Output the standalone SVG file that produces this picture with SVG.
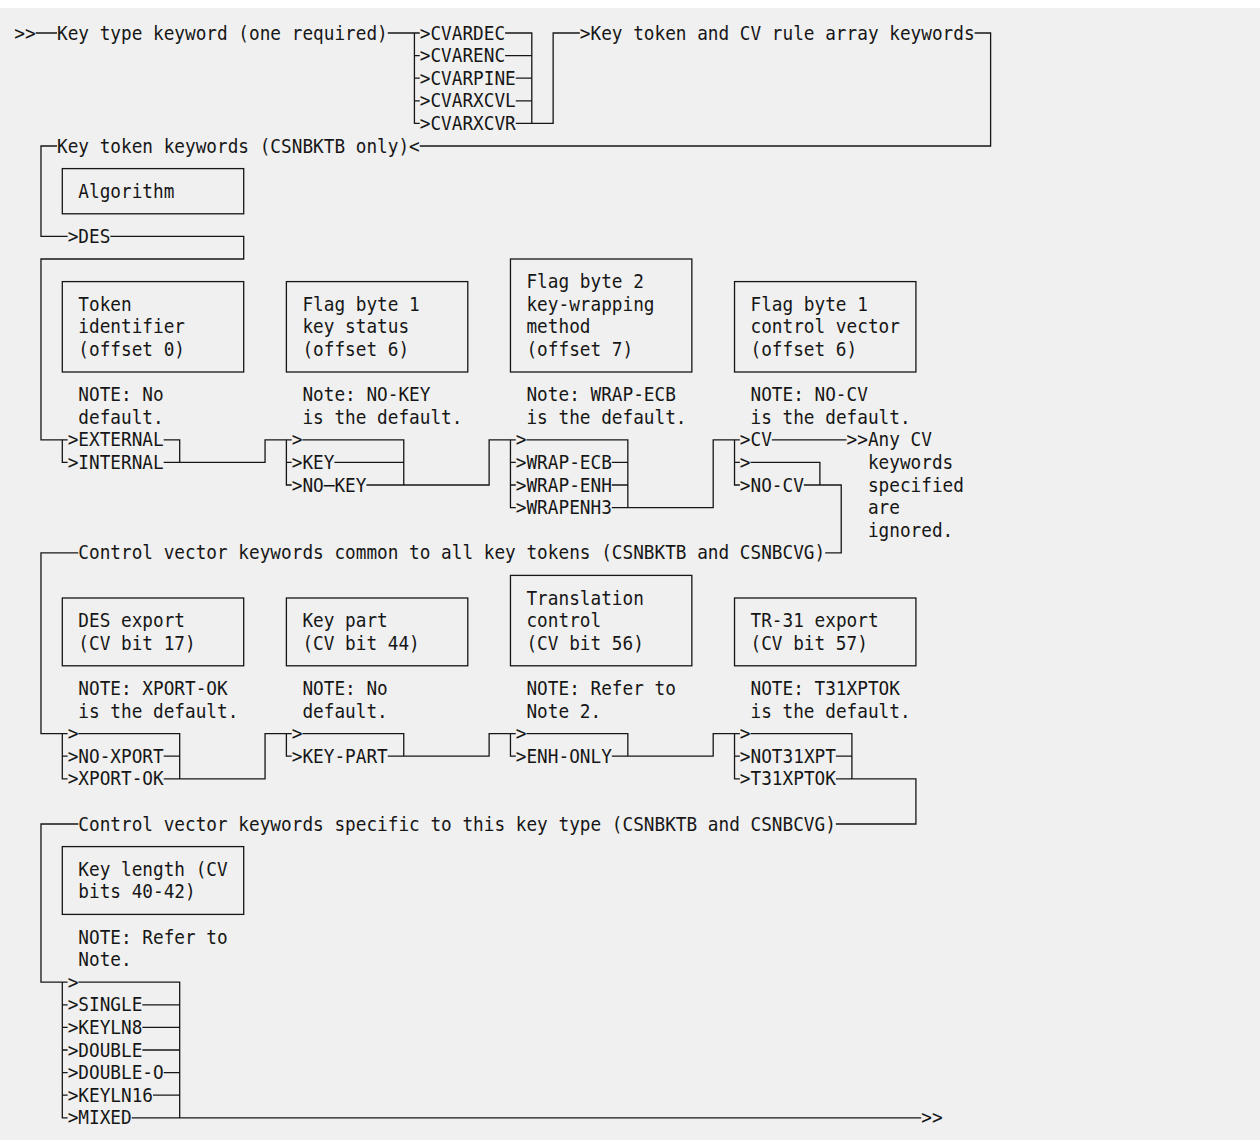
<svg xmlns="http://www.w3.org/2000/svg" width="1260" height="1140" viewBox="0 0 1260 1140">
<style>
.t{font-family:"DejaVu Sans Mono","Liberation Mono",monospace;font-size:18.8px;fill:#161616}
.ln{fill:none;stroke:#161616;stroke-width:1.3}
.box{fill:none;stroke:#161616;stroke-width:1.3}
</style>
<rect x="0" y="0" width="1260" height="1140" fill="#f0f0f0"/>
<rect x="0" y="0" width="1260" height="8" fill="#ffffff"/>

<g id="connectors" class="ln">
<path d="M35.64 33 H56.98 M387.75 33 H419.76 M414.43 33 V123.4 H419.76 M414.43 55.6 H419.76 M414.43 78.2 H419.76 M414.43 100.8 H419.76"/>
<path d="M505.12 33 H531.8 V123.4 M505.12 55.6 H531.8 M515.79 78.2 H531.8 M515.79 100.8 H531.8 M515.79 123.4 H553.14 V33 H579.81"/>
<path d="M974.6 33 H990.61 V146 H419.76"/>
<path d="M56.98 146 H40.98 V236.4 H67.65"/>
<path d="M110.33 236.4 H243.7 V259 H40.98 V439.8 H67.65"/>
<path d="M62.31 439.8 V462.4 H67.65"/>
<path d="M163.68 439.8 H179.69 V462.4 M163.68 462.4 H265.05 V439.8 H291.72"/>
<path d="M286.39 439.8 V485 H291.72 M286.39 462.4 H291.72 M302.39 439.8 H403.76 V485 M334.4 462.4 H403.76 M366.41 485 H489.12 V439.8 H515.79"/>
<path d="M510.46 439.8 V507.6 H515.79 M510.46 462.4 H515.79 M510.46 485 H515.79 M526.46 439.8 H627.83 V507.6 M611.82 462.4 H627.83 M611.82 485 H627.83 M611.82 507.6 H713.19 V439.8 H739.86"/>
<path d="M734.53 439.8 V485 H739.86 M734.53 462.4 H739.86 M771.87 439.8 H846.56 M750.53 462.4 H819.89 V485 M803.88 485 H841.23 V552.8 H825.22"/>
<path d="M78.32 552.8 H40.98 V733.6 H67.65"/>
<path d="M62.31 733.6 V778.8 H67.65 M62.31 756.2 H67.65 M78.32 733.6 H179.69 V778.8 M163.68 756.2 H179.69 M163.68 778.8 H265.05 V733.6 H291.72"/>
<path d="M286.39 733.6 V756.2 H291.72 M302.39 733.6 H403.76 V756.2 M387.75 756.2 H489.12 V733.6 H515.79"/>
<path d="M510.46 733.6 V756.2 H515.79 M526.46 733.6 H627.83 V756.2 M611.82 756.2 H713.19 V733.6 H739.86"/>
<path d="M734.53 733.6 V778.8 H739.86 M734.53 756.2 H739.86 M750.53 733.6 H851.9 V778.8 M835.89 756.2 H851.9 M835.89 778.8 H915.92 V824 H835.89"/>
<path d="M78.32 824 H40.98 V982.2 H67.65 M62.31 982.2 V1117.8 H67.65 M62.31 1004.8 H67.65 M62.31 1027.4 H67.65 M62.31 1050 H67.65 M62.31 1072.6 H67.65 M62.31 1095.2 H67.65"/>
<path d="M78.32 982.2 H179.69 V1117.8 M142.34 1004.8 H179.69 M142.34 1027.4 H179.69 M142.34 1050 H179.69 M163.68 1072.6 H179.69 M153.01 1095.2 H179.69 M131.67 1117.8 H921.25"/>
</g>

<g id="start" class="t"><text x="14.3" y="39.6" textLength="21.34" lengthAdjust="spacingAndGlyphs">&gt;&gt;</text><text x="56.98" y="39.6" textLength="330.77" lengthAdjust="spacingAndGlyphs">Key type keyword (one required)</text></g>
<g id="key-type-choices" class="t">
<text x="419.76" y="39.6" textLength="85.36" lengthAdjust="spacingAndGlyphs">&gt;CVARDEC</text>
<text x="419.76" y="62.2" textLength="85.36" lengthAdjust="spacingAndGlyphs">&gt;CVARENC</text>
<text x="419.76" y="84.8" textLength="96.03" lengthAdjust="spacingAndGlyphs">&gt;CVARPINE</text>
<text x="419.76" y="107.4" textLength="96.03" lengthAdjust="spacingAndGlyphs">&gt;CVARXCVL</text>
<text x="419.76" y="130" textLength="96.03" lengthAdjust="spacingAndGlyphs">&gt;CVARXCVR</text>
</g>
<g id="rule-array" class="t"><text x="579.81" y="39.6" textLength="394.79" lengthAdjust="spacingAndGlyphs">&gt;Key token and CV rule array keywords</text></g>
<g id="key-token-keywords" class="t"><text x="56.98" y="152.6" textLength="362.78" lengthAdjust="spacingAndGlyphs">Key token keywords (CSNBKTB only)&lt;</text></g>

<g id="algorithm">
<rect class="box" x="62.31" y="168.6" width="181.39" height="45.2"/>
<text class="t" x="78.32" y="197.8" textLength="96.03" lengthAdjust="spacingAndGlyphs">Algorithm</text>
<text class="t" x="67.65" y="243" textLength="42.68" lengthAdjust="spacingAndGlyphs">&gt;DES</text>
</g>

<g id="token-identifier">
<rect class="box" x="62.31" y="281.6" width="181.39" height="90.4"/>
<text class="t" x="78.32" y="310.8" textLength="53.35" lengthAdjust="spacingAndGlyphs">Token</text>
<text class="t" x="78.32" y="333.4" textLength="106.7" lengthAdjust="spacingAndGlyphs">identifier</text>
<text class="t" x="78.32" y="356" textLength="106.7" lengthAdjust="spacingAndGlyphs">(offset 0)</text>
<text class="t" x="78.32" y="401.2" textLength="85.36" lengthAdjust="spacingAndGlyphs">NOTE: No</text>
<text class="t" x="78.32" y="423.8" textLength="85.36" lengthAdjust="spacingAndGlyphs">default.</text>
<text class="t" x="67.65" y="446.4" textLength="96.03" lengthAdjust="spacingAndGlyphs">&gt;EXTERNAL</text>
<text class="t" x="67.65" y="469" textLength="96.03" lengthAdjust="spacingAndGlyphs">&gt;INTERNAL</text>
</g>

<g id="key-status">
<rect class="box" x="286.39" y="281.6" width="181.39" height="90.4"/>
<text class="t" x="302.39" y="310.8" textLength="117.37" lengthAdjust="spacingAndGlyphs">Flag byte 1</text>
<text class="t" x="302.39" y="333.4" textLength="106.7" lengthAdjust="spacingAndGlyphs">key status</text>
<text class="t" x="302.39" y="356" textLength="106.7" lengthAdjust="spacingAndGlyphs">(offset 6)</text>
<text class="t" x="302.39" y="401.2" textLength="128.04" lengthAdjust="spacingAndGlyphs">Note: NO-KEY</text>
<text class="t" x="302.39" y="423.8" textLength="160.05" lengthAdjust="spacingAndGlyphs">is the default.</text>
<text class="t" x="291.72" y="446.4" textLength="10.67" lengthAdjust="spacingAndGlyphs">&gt;</text>
<text class="t" x="291.72" y="469" textLength="42.68" lengthAdjust="spacingAndGlyphs">&gt;KEY</text>
<text class="t" x="291.72" y="491.6" textLength="74.69" lengthAdjust="spacingAndGlyphs">&gt;NO─KEY</text>
</g>

<g id="key-wrapping">
<rect class="box" x="510.46" y="259" width="181.39" height="113"/>
<text class="t" x="526.46" y="288.2" textLength="117.37" lengthAdjust="spacingAndGlyphs">Flag byte 2</text>
<text class="t" x="526.46" y="310.8" textLength="128.04" lengthAdjust="spacingAndGlyphs">key-wrapping</text>
<text class="t" x="526.46" y="333.4" textLength="64.02" lengthAdjust="spacingAndGlyphs">method</text>
<text class="t" x="526.46" y="356" textLength="106.7" lengthAdjust="spacingAndGlyphs">(offset 7)</text>
<text class="t" x="526.46" y="401.2" textLength="149.38" lengthAdjust="spacingAndGlyphs">Note: WRAP-ECB</text>
<text class="t" x="526.46" y="423.8" textLength="160.05" lengthAdjust="spacingAndGlyphs">is the default.</text>
<text class="t" x="515.79" y="446.4" textLength="10.67" lengthAdjust="spacingAndGlyphs">&gt;</text>
<text class="t" x="515.79" y="469" textLength="96.03" lengthAdjust="spacingAndGlyphs">&gt;WRAP-ECB</text>
<text class="t" x="515.79" y="491.6" textLength="96.03" lengthAdjust="spacingAndGlyphs">&gt;WRAP-ENH</text>
<text class="t" x="515.79" y="514.2" textLength="96.03" lengthAdjust="spacingAndGlyphs">&gt;WRAPENH3</text>
</g>

<g id="control-vector-flag">
<rect class="box" x="734.53" y="281.6" width="181.39" height="90.4"/>
<text class="t" x="750.53" y="310.8" textLength="117.37" lengthAdjust="spacingAndGlyphs">Flag byte 1</text>
<text class="t" x="750.53" y="333.4" textLength="149.38" lengthAdjust="spacingAndGlyphs">control vector</text>
<text class="t" x="750.53" y="356" textLength="106.7" lengthAdjust="spacingAndGlyphs">(offset 6)</text>
<text class="t" x="750.53" y="401.2" textLength="117.37" lengthAdjust="spacingAndGlyphs">NOTE: NO-CV</text>
<text class="t" x="750.53" y="423.8" textLength="160.05" lengthAdjust="spacingAndGlyphs">is the default.</text>
<text class="t" x="739.86" y="446.4" textLength="32.01" lengthAdjust="spacingAndGlyphs">&gt;CV</text>
<text class="t" x="739.86" y="469" textLength="10.67" lengthAdjust="spacingAndGlyphs">&gt;</text>
<text class="t" x="739.86" y="491.6" textLength="64.02" lengthAdjust="spacingAndGlyphs">&gt;NO-CV</text>
<text class="t" x="846.56" y="446.4" textLength="85.36" lengthAdjust="spacingAndGlyphs">&gt;&gt;Any CV</text>
<text class="t" x="867.9" y="469" textLength="85.36" lengthAdjust="spacingAndGlyphs">keywords</text>
<text class="t" x="867.9" y="491.6" textLength="96.03" lengthAdjust="spacingAndGlyphs">specified</text>
<text class="t" x="867.9" y="514.2" textLength="32.01" lengthAdjust="spacingAndGlyphs">are</text>
<text class="t" x="867.9" y="536.8" textLength="85.36" lengthAdjust="spacingAndGlyphs">ignored.</text>
</g>

<g id="cv-common-title" class="t"><text x="78.32" y="559.4" textLength="746.9" lengthAdjust="spacingAndGlyphs">Control vector keywords common to all key tokens (CSNBKTB and CSNBCVG)</text></g>

<g id="des-export">
<rect class="box" x="62.31" y="598" width="181.39" height="67.8"/>
<text class="t" x="78.32" y="627.2" textLength="106.7" lengthAdjust="spacingAndGlyphs">DES export</text>
<text class="t" x="78.32" y="649.8" textLength="117.37" lengthAdjust="spacingAndGlyphs">(CV bit 17)</text>
<text class="t" x="78.32" y="695" textLength="149.38" lengthAdjust="spacingAndGlyphs">NOTE: XPORT-OK</text>
<text class="t" x="78.32" y="717.6" textLength="160.05" lengthAdjust="spacingAndGlyphs">is the default.</text>
<text class="t" x="67.65" y="740.2" textLength="10.67" lengthAdjust="spacingAndGlyphs">&gt;</text>
<text class="t" x="67.65" y="762.8" textLength="96.03" lengthAdjust="spacingAndGlyphs">&gt;NO-XPORT</text>
<text class="t" x="67.65" y="785.4" textLength="96.03" lengthAdjust="spacingAndGlyphs">&gt;XPORT-OK</text>
</g>

<g id="key-part">
<rect class="box" x="286.39" y="598" width="181.39" height="67.8"/>
<text class="t" x="302.39" y="627.2" textLength="85.36" lengthAdjust="spacingAndGlyphs">Key part</text>
<text class="t" x="302.39" y="649.8" textLength="117.37" lengthAdjust="spacingAndGlyphs">(CV bit 44)</text>
<text class="t" x="302.39" y="695" textLength="85.36" lengthAdjust="spacingAndGlyphs">NOTE: No</text>
<text class="t" x="302.39" y="717.6" textLength="85.36" lengthAdjust="spacingAndGlyphs">default.</text>
<text class="t" x="291.72" y="740.2" textLength="10.67" lengthAdjust="spacingAndGlyphs">&gt;</text>
<text class="t" x="291.72" y="762.8" textLength="96.03" lengthAdjust="spacingAndGlyphs">&gt;KEY-PART</text>
</g>

<g id="translation-control">
<rect class="box" x="510.46" y="575.4" width="181.39" height="90.4"/>
<text class="t" x="526.46" y="604.6" textLength="117.37" lengthAdjust="spacingAndGlyphs">Translation</text>
<text class="t" x="526.46" y="627.2" textLength="74.69" lengthAdjust="spacingAndGlyphs">control</text>
<text class="t" x="526.46" y="649.8" textLength="117.37" lengthAdjust="spacingAndGlyphs">(CV bit 56)</text>
<text class="t" x="526.46" y="695" textLength="149.38" lengthAdjust="spacingAndGlyphs">NOTE: Refer to</text>
<text class="t" x="526.46" y="717.6" textLength="74.69" lengthAdjust="spacingAndGlyphs">Note 2.</text>
<text class="t" x="515.79" y="740.2" textLength="10.67" lengthAdjust="spacingAndGlyphs">&gt;</text>
<text class="t" x="515.79" y="762.8" textLength="96.03" lengthAdjust="spacingAndGlyphs">&gt;ENH-ONLY</text>
</g>

<g id="tr31-export">
<rect class="box" x="734.53" y="598" width="181.39" height="67.8"/>
<text class="t" x="750.53" y="627.2" textLength="128.04" lengthAdjust="spacingAndGlyphs">TR-31 export</text>
<text class="t" x="750.53" y="649.8" textLength="117.37" lengthAdjust="spacingAndGlyphs">(CV bit 57)</text>
<text class="t" x="750.53" y="695" textLength="149.38" lengthAdjust="spacingAndGlyphs">NOTE: T31XPTOK</text>
<text class="t" x="750.53" y="717.6" textLength="160.05" lengthAdjust="spacingAndGlyphs">is the default.</text>
<text class="t" x="739.86" y="740.2" textLength="10.67" lengthAdjust="spacingAndGlyphs">&gt;</text>
<text class="t" x="739.86" y="762.8" textLength="96.03" lengthAdjust="spacingAndGlyphs">&gt;NOT31XPT</text>
<text class="t" x="739.86" y="785.4" textLength="96.03" lengthAdjust="spacingAndGlyphs">&gt;T31XPTOK</text>
</g>

<g id="cv-specific-title" class="t"><text x="78.32" y="830.6" textLength="757.57" lengthAdjust="spacingAndGlyphs">Control vector keywords specific to this key type (CSNBKTB and CSNBCVG)</text></g>

<g id="key-length">
<rect class="box" x="62.31" y="846.6" width="181.39" height="67.8"/>
<text class="t" x="78.32" y="875.8" textLength="149.38" lengthAdjust="spacingAndGlyphs">Key length (CV</text>
<text class="t" x="78.32" y="898.4" textLength="117.37" lengthAdjust="spacingAndGlyphs">bits 40-42)</text>
<text class="t" x="78.32" y="943.6" textLength="149.38" lengthAdjust="spacingAndGlyphs">NOTE: Refer to</text>
<text class="t" x="78.32" y="966.2" textLength="53.35" lengthAdjust="spacingAndGlyphs">Note.</text>
<text class="t" x="67.65" y="988.8" textLength="10.67" lengthAdjust="spacingAndGlyphs">&gt;</text>
<text class="t" x="67.65" y="1011.4" textLength="74.69" lengthAdjust="spacingAndGlyphs">&gt;SINGLE</text>
<text class="t" x="67.65" y="1034" textLength="74.69" lengthAdjust="spacingAndGlyphs">&gt;KEYLN8</text>
<text class="t" x="67.65" y="1056.6" textLength="74.69" lengthAdjust="spacingAndGlyphs">&gt;DOUBLE</text>
<text class="t" x="67.65" y="1079.2" textLength="96.03" lengthAdjust="spacingAndGlyphs">&gt;DOUBLE-O</text>
<text class="t" x="67.65" y="1101.8" textLength="85.36" lengthAdjust="spacingAndGlyphs">&gt;KEYLN16</text>
<text class="t" x="67.65" y="1124.4" textLength="64.02" lengthAdjust="spacingAndGlyphs">&gt;MIXED</text>
</g>

<g id="end" class="t"><text x="921.25" y="1124.4" textLength="21.34" lengthAdjust="spacingAndGlyphs">&gt;&gt;</text></g>
</svg>
